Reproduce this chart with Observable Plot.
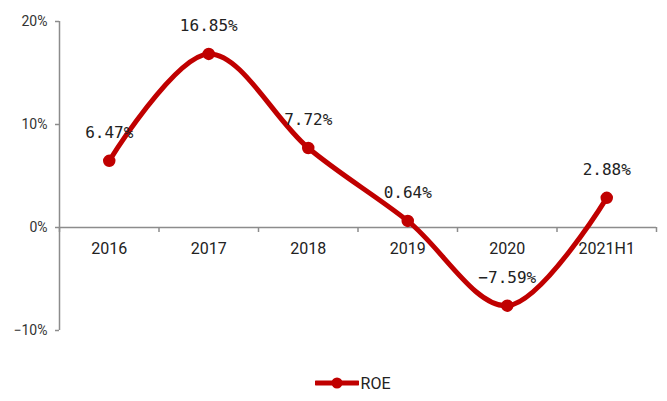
<!DOCTYPE html>
<html>
<head>
<meta charset="utf-8">
<script src="https://cdn.jsdelivr.net/npm/d3@7"></script>
<script src="https://cdn.jsdelivr.net/npm/@observablehq/plot@0.6"></script>
<style>
  body { margin: 0; background: #fff; }
  #chart { width: 667px; }
  .legend { height: 36px; display: flex; align-items: center; justify-content: center; padding-left: 38px; box-sizing: border-box;
    font-family: "Roboto", "Noto Sans", sans-serif; font-size: 16px; color: #222; }
  .legend svg { margin-right: 2px; }
</style>
</head>
<body>
<div id="chart"></div>
<script>
const categories = ["2016", "2017", "2018", "2019", "2020", "2021H1"];
const roe = [6.47, 16.85, 7.72, 0.64, -7.59, 2.88];
const yTicks = [-10, 0, 10, 20];
const seriesName = "ROE";

const fmtMinus = s => s.replace("-", "\u2212");
const data = categories.map((c, i) => ({i, cat: c, v: roe[i]}));
const bounds = d3.range(categories.length + 1).map(k => k - 0.5);
const red = "#C00000";
const axisColor = "#8c8c8c";

const plot = Plot.plot({
  width: 667,
  height: 365,
  marginLeft: 59,
  marginRight: 11,
  marginTop: 21,
  marginBottom: 35,
  x: {type: "linear", domain: [-0.5, categories.length - 0.5], axis: null},
  y: {type: "linear", domain: [-10, 20], axis: null},
  style: {fontFamily: "Roboto, 'Noto Sans', sans-serif", background: "#fff"},
  marks: [
    Plot.ruleX([-0.5], {y1: -10, y2: 20, stroke: axisColor, strokeWidth: 1.5}),
    Plot.axisY(yTicks, {tickFormat: d => fmtMinus(d + "%"), tickSize: 4, tickPadding: 8, stroke: axisColor, strokeWidth: 1.5,
      fontSize: 14, fill: "#333", anchor: "left", label: null}),
    Plot.ruleY([0], {stroke: axisColor, strokeWidth: 1.5}),
    Plot.ruleX(bounds, {x: d => d, y1: 0, y2: 0, insetBottom: -5, stroke: axisColor, strokeWidth: 1.5}),
    Plot.text(data, {x: "i", y: 0, text: "cat", dy: 21, fontSize: 16, fill: "#222"}),
    Plot.line(data, {x: "i", y: "v", stroke: red, strokeWidth: 5, curve: "catmull-rom"}),
    Plot.dot(data, {x: "i", y: "v", r: 5.5, fill: red, stroke: red}),
    Plot.text(data, {x: "i", y: "v", text: d => fmtMinus(d.v.toFixed(2) + "%"), dy: -28, fontSize: 16,
      fontFamily: "'DejaVu Sans Mono', monospace", fill: "#222"})
  ]
});
document.getElementById("chart").appendChild(plot);

const legend = document.createElement("div");
legend.className = "legend";
legend.innerHTML = `<svg width="44" height="14"><line x1="1" y1="7" x2="43" y2="7" stroke="${red}" stroke-width="5" stroke-linecap="round"/><circle cx="22" cy="7" r="5.5" fill="${red}"/></svg><span></span>`;
legend.querySelector("span").textContent = seriesName;
document.body.appendChild(legend);
</script>
</body>
</html>
